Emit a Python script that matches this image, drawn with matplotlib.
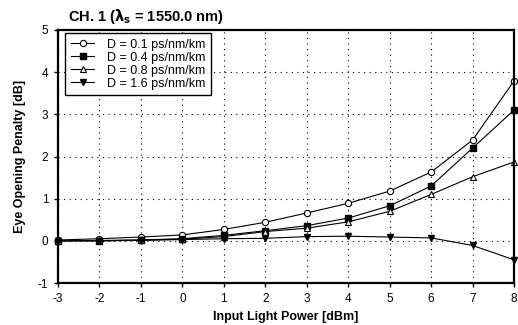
import matplotlib
matplotlib.use("Agg")
import matplotlib.pyplot as plt

plt.rcParams['font.family'] = ['Liberation Sans', 'DejaVu Sans']
plt.rcParams['axes.unicode_minus'] = False

power = [-3, -2, -1, 0, 1, 2, 3, 4, 5, 6, 7, 8]
d01 = [0.02, 0.05, 0.09, 0.14, 0.27, 0.44, 0.66, 0.89, 1.18, 1.63, 2.39, 3.79]
d04 = [0.0, 0.0, 0.02, 0.05, 0.13, 0.24, 0.36, 0.54, 0.83, 1.30, 2.20, 3.10]
d08 = [0.0, 0.01, 0.02, 0.04, 0.10, 0.22, 0.30, 0.45, 0.70, 1.10, 1.52, 1.87]
d16 = [0.0, 0.0, 0.01, 0.03, 0.05, 0.06, 0.10, 0.11, 0.09, 0.07, -0.11, -0.45]
labels = ["D = 0.1 ps/nm/km", "D = 0.4 ps/nm/km", "D = 0.8 ps/nm/km", "D = 1.6 ps/nm/km"]

fig = plt.figure(figsize=(5.18, 3.25), dpi=100)
ax = fig.add_axes([58/518, 1-283/325, (514-58)/518, (283-30)/325])

ms = 4.5
ax.plot(power, d01, '-o', color='black', mfc='white', mec='black', ms=ms, lw=0.8, mew=0.8, label=labels[0])
ax.plot(power, d04, '-s', color='black', mfc='black', mec='black', ms=ms-0.5, lw=0.8, label=labels[1])
ax.plot(power, d08, '-^', color='black', mfc='white', mec='black', ms=ms, lw=0.8, mew=0.8, label=labels[2])
ax.plot(power, d16, '-v', color='black', mfc='black', mec='black', ms=ms, lw=0.8, label=labels[3])

ax.set_xlim(-3, 8)
ax.set_ylim(-1, 5)
ax.set_xticks(range(-3, 9))
ax.set_yticks(range(-1, 6))
ax.grid(True, linestyle=(0, (1, 4)), color='black', lw=0.8)
for s in ax.spines.values():
    s.set_linewidth(1.6)
ax.tick_params(direction='out', length=3, width=1, labelsize=8.5, pad=4)
for l in ax.lines:
    l.set_clip_on(False)

ax.set_xlabel("Input Light Power [dBm]", fontsize=9, fontweight='bold')
ax.xaxis.set_label_coords(0.5, -(317-283)/253, transform=ax.transAxes)
ax.xaxis.label.set_va('center')
ax.set_ylabel("Eye Opening Penalty [dB]", fontsize=9, fontweight='bold')
ax.yaxis.set_label_coords(-(58-20)/456, 0.5, transform=ax.transAxes)
ax.yaxis.label.set_va('center')
fig.text(68/518, 1-17/325, r"CH. 1 ($\mathbf{\lambda_s}$ = 1550.0 nm)", fontsize=10.5, fontweight='bold', va='center', ha='left')

leg = ax.legend(loc='upper left', bbox_to_anchor=(65/518, 1-33/325), bbox_transform=fig.transFigure,
                borderaxespad=0, fontsize=9, frameon=True, fancybox=False,
                edgecolor='black', framealpha=1, borderpad=0.45, labelspacing=0.08, handlelength=1.9, handletextpad=1.0)
leg.get_frame().set_linewidth(1.0)

fig.savefig("out.png", dpi=100)
